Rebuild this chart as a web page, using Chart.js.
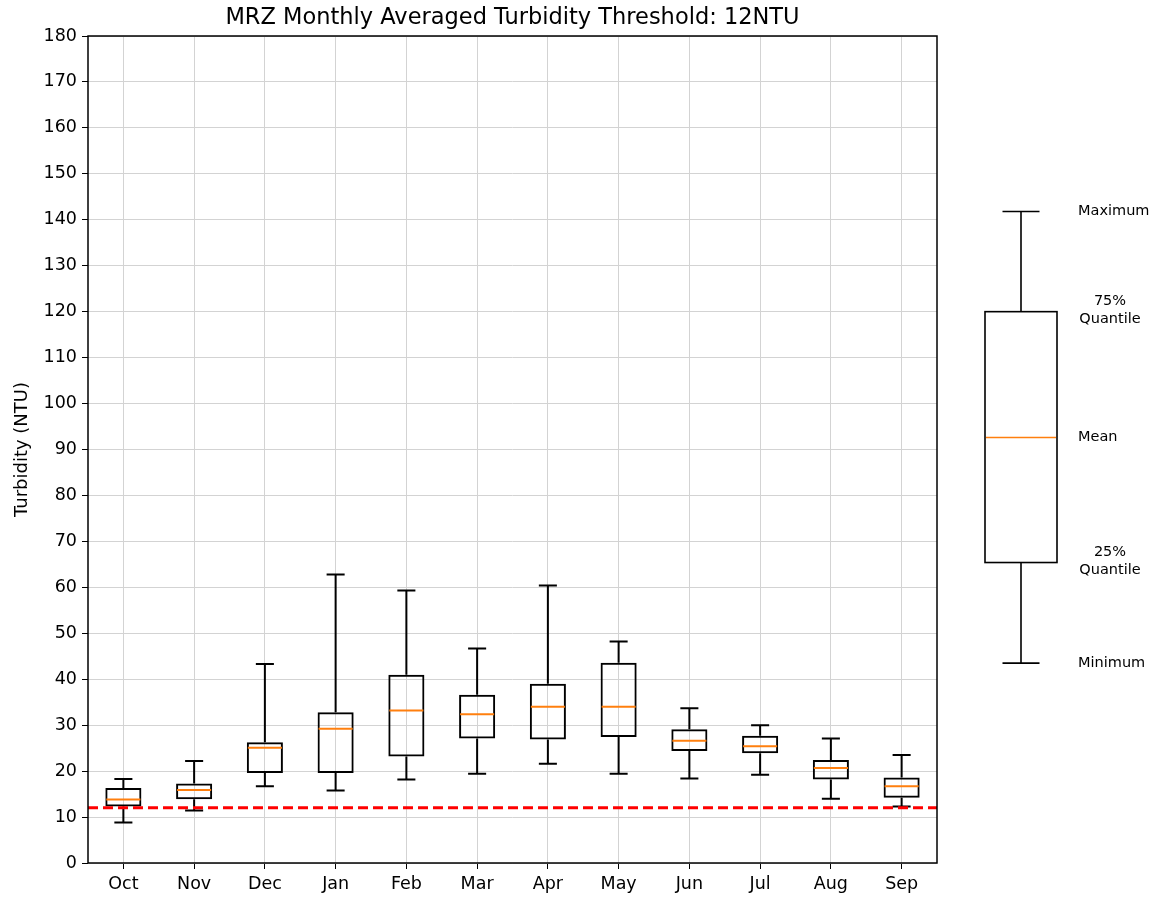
<!DOCTYPE html>
<html>
<head>
<meta charset="utf-8">
<script src="https://cdn.jsdelivr.net/npm/chart.js@4/dist/chart.umd.min.js"></script>
<style>
html,body{margin:0;padding:0;background:#fff;}
#wrap{width:1155px;height:898px;position:relative;}
</style>
</head>
<body>
<div id="wrap"><canvas id="c" width="1155" height="898"></canvas></div>
<script>
const titleText = 'MRZ Monthly Averaged Turbidity Threshold: 12NTU';
const yTitle = 'Turbidity (NTU)';
const months = ['Oct','Nov','Dec','Jan','Feb','Mar','Apr','May','Jun','Jul','Aug','Sep'];
const minVals  = [8.8, 11.4, 16.7, 15.8, 18.2, 19.4, 21.6, 19.4, 18.4, 19.2, 14.0, 12.3];
const q1Vals   = [12.3, 13.9, 19.6, 19.6, 23.2, 27.1, 26.9, 27.4, 24.4, 23.9, 18.2, 14.2];
const meanVals = [13.8, 15.9, 25.1, 29.2, 33.2, 32.4, 34.0, 34.0, 26.6, 25.4, 20.7, 16.7];
const q3Vals   = [16.3, 17.3, 26.3, 32.8, 41.0, 36.6, 39.0, 43.6, 29.1, 27.7, 22.4, 18.6];
const maxVals  = [18.3, 22.2, 43.3, 62.8, 59.3, 46.7, 60.4, 48.2, 33.7, 30.0, 27.1, 23.5];
const threshold = 12;
const yMin = 0, yMax = 180, yStep = 10;
// legend illustration values (min, q1, mean, q3, max) on the same y scale
const legendVals = [43.5, 65.4, 92.6, 120.0, 141.8];
const legendLabels = [['Minimum'], ['25%','Quantile'], ['Mean'], ['75%','Quantile'], ['Maximum']];

const FONT = "'DejaVu Sans', sans-serif";

const boxPlugin = {
  id: 'boxExtras',
  afterDatasetsDraw(chart) {
    const ctx = chart.ctx;
    const y = chart.scales.y;
    const meta = chart.getDatasetMeta(0);
    ctx.save();
    meta.data.forEach((bar, i) => {
      const cx = bar.x;
      const w = bar.width;
      const cap = w / 2;
      ctx.strokeStyle = '#000';
      ctx.lineWidth = 2;
      ctx.beginPath();
      ctx.moveTo(cx, y.getPixelForValue(q3Vals[i]));
      ctx.lineTo(cx, y.getPixelForValue(maxVals[i]));
      ctx.moveTo(cx, y.getPixelForValue(q1Vals[i]));
      ctx.lineTo(cx, y.getPixelForValue(minVals[i]));
      ctx.moveTo(cx - cap/2, y.getPixelForValue(maxVals[i]));
      ctx.lineTo(cx + cap/2, y.getPixelForValue(maxVals[i]));
      ctx.moveTo(cx - cap/2, y.getPixelForValue(minVals[i]));
      ctx.lineTo(cx + cap/2, y.getPixelForValue(minVals[i]));
      ctx.stroke();
      ctx.strokeStyle = '#ff7f0e';
      ctx.beginPath();
      const my = y.getPixelForValue(meanVals[i]);
      ctx.moveTo(cx - w/2 + 1, my);
      ctx.lineTo(cx + w/2 - 1, my);
      ctx.stroke();
    });
    // threshold line
    const a = chart.chartArea;
    const ty = y.getPixelForValue(threshold);
    ctx.strokeStyle = '#ff0000';
    ctx.lineWidth = 3;
    ctx.setLineDash([10, 5]);
    ctx.beginPath();
    ctx.moveTo(a.left, ty);
    ctx.lineTo(a.right, ty);
    ctx.stroke();
    ctx.setLineDash([]);
    ctx.restore();
  },
  afterDraw(chart) {
    const ctx = chart.ctx;
    const a = chart.chartArea;
    const y = chart.scales.y;
    ctx.save();
    // frame
    ctx.strokeStyle = '#000';
    ctx.lineWidth = 1.5;
    ctx.strokeRect(a.left, a.top, a.right - a.left, a.bottom - a.top);
    // title
    ctx.fillStyle = '#000';
    ctx.font = '22.5px ' + FONT;
    ctx.textAlign = 'center';
    ctx.textBaseline = 'middle';
    ctx.fillText(titleText, (a.left + a.right) / 2, 18);
    // legend illustration
    const lx = 1021, bw = 72, capw = 37;
    const p = legendVals.map(v => y.getPixelForValue(v));
    ctx.strokeStyle = '#000';
    ctx.lineWidth = 1.6;
    ctx.strokeRect(lx - bw/2, p[3], bw, p[1] - p[3]);
    ctx.beginPath();
    ctx.moveTo(lx, p[3]); ctx.lineTo(lx, p[4]);
    ctx.moveTo(lx, p[1]); ctx.lineTo(lx, p[0]);
    ctx.moveTo(lx - capw/2, p[4]); ctx.lineTo(lx + capw/2, p[4]);
    ctx.moveTo(lx - capw/2, p[0]); ctx.lineTo(lx + capw/2, p[0]);
    ctx.stroke();
    ctx.strokeStyle = '#ff7f0e';
    ctx.beginPath();
    ctx.moveTo(lx - bw/2 + 1, p[2]); ctx.lineTo(lx + bw/2 - 1, p[2]);
    ctx.stroke();
    ctx.fillStyle = '#000';
    ctx.font = '14.5px ' + FONT;
    ctx.textBaseline = 'middle';
    legendLabels.forEach((lines, i) => {
      if (lines.length === 1) {
        ctx.textAlign = 'left';
        ctx.fillText(lines[0], 1078, p[i]);
      } else {
        ctx.textAlign = 'center';
        ctx.fillText(lines[0], 1110, p[i] - 10);
        ctx.fillText(lines[1], 1110, p[i] + 8);
      }
    });
    ctx.restore();
  }
};

new Chart(document.getElementById('c'), {
  type: 'bar',
  data: {
    labels: months,
    datasets: [{
      label: 'box',
      data: months.map((m, i) => [q1Vals[i], q3Vals[i]]),
      backgroundColor: 'rgba(0,0,0,0)',
      borderColor: '#000',
      borderWidth: 2,
      borderSkipped: false,
      barPercentage: 0.51,
      categoryPercentage: 1.0
    }]
  },
  options: {
    responsive: false,
    animation: false,
    devicePixelRatio: 1,
    layout: { padding: { left: 0, right: 218, top: 36, bottom: 0 } },
    plugins: { legend: { display: false }, tooltip: { enabled: false }, title: { display: false } },
    scales: {
      x: {
        grid: { display: true, offset: false, color: '#d3d3d3', lineWidth: 1, tickColor: '#000', tickLength: 6, drawTicks: true },
        border: { display: false },
        ticks: { color: '#000', font: { family: FONT, size: 17.5 }, padding: 5, maxRotation: 0 },
        afterFit(s) { s.height = 35; }
      },
      y: {
        min: yMin, max: yMax,
        grid: { color: '#d3d3d3', lineWidth: 1, tickColor: '#000', tickLength: 6, drawTicks: true },
        border: { display: false },
        ticks: { stepSize: yStep, color: '#000', font: { family: FONT, size: 17.5 }, padding: 5 },
        title: { display: true, text: yTitle, color: '#000', font: { family: FONT, size: 18 }, padding: { top: 12, bottom: 0 } },
        afterFit(s) { s.width = 88; }
      }
    }
  },
  plugins: [boxPlugin]
});
</script>
</body>
</html>
